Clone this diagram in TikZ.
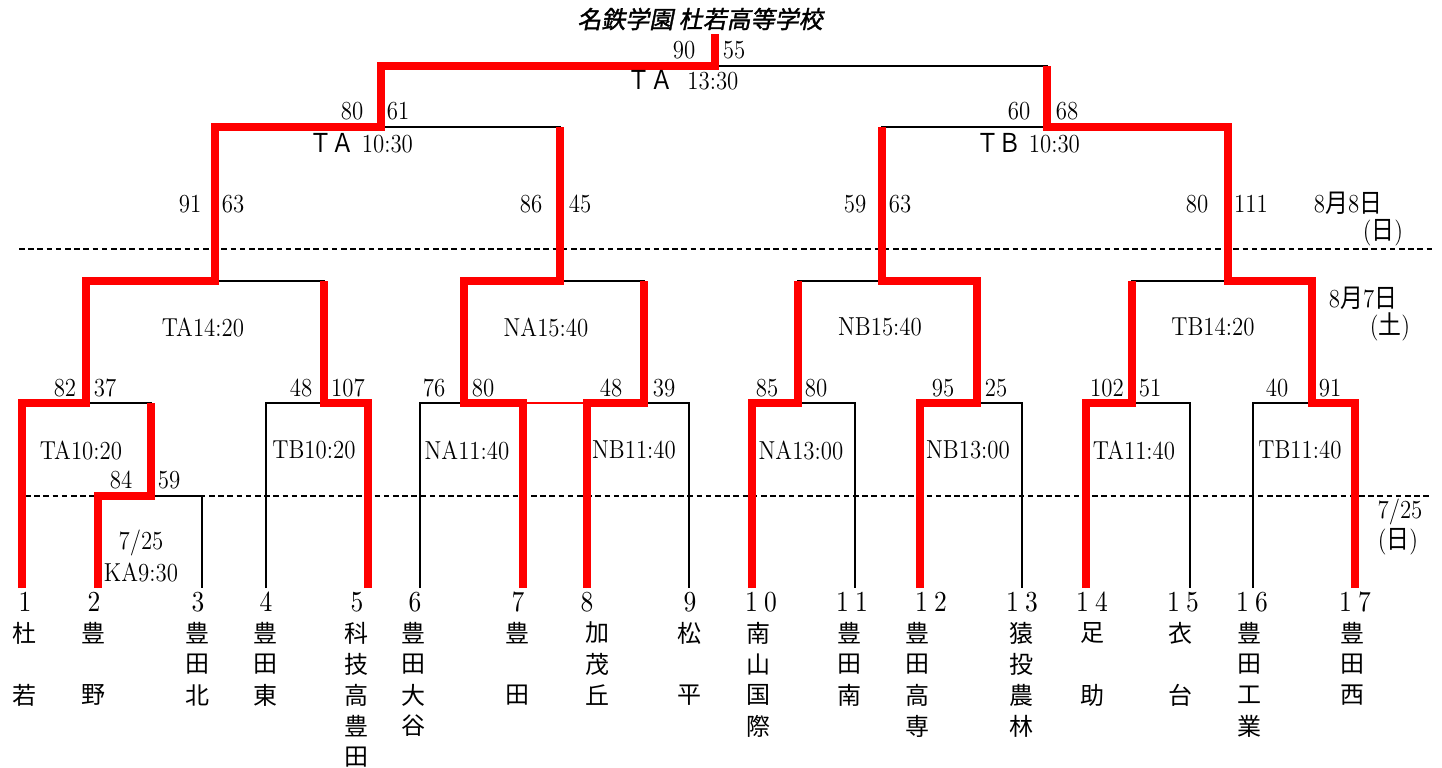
\documentclass[tikz,border=0pt]{standalone}
\usepackage{fontspec}
\newfontfamily\cjk{Noto Sans CJK JP}
\newfontfamily\cjktitle{Noto Sans CJK JP}[FakeSlant=0.2,FakeBold=1.5]
\newfontfamily\seedfont{lmroman10-regular.otf}[LetterSpace=25]
\definecolor{winred}{RGB}{255,0,0}

\begin{document}
\begin{tikzpicture}[line join=miter, x=0.5pt, y=-0.5pt,
  bracket/.style={line width=0.7pt},
  win/.style={line width=3.6pt, color=winred},
  day/.style={line width=1pt, dash pattern=on 2.8pt off 1.8pt},
  score/.style={font=\fontsize{13}{15}\selectfont, xscale=0.88, inner sep=0pt},
  seed/.style={font=\seedfont\fontsize{14.5}{16}\selectfont, xscale=0.88, inner sep=0pt},
  school/.style={font=\cjk\fontsize{12}{14}\selectfont, inner sep=0pt}]
\useasboundingbox (0,0) rectangle (1442,767);

% Games
\coordinate (m23) at (151,496);
\coordinate (m1) at (86,403);
\coordinate (m45) at (324,403);
\coordinate (m67) at (464,403);
\coordinate (m89) at (644,403);
\coordinate (m1011) at (798,403);
\coordinate (m1213) at (977,403);
\coordinate (m1415) at (1132,403);
\coordinate (m1617) at (1312,403);
\coordinate (q1) at (215,281);
\coordinate (q2) at (560,281);
\coordinate (q3) at (882,281);
\coordinate (q4) at (1228,281);
\coordinate (s1) at (381,127);
\coordinate (s2) at (1047,127);
\coordinate (f) at (715,66);
\coordinate (top) at (715,34);

% Teams
\foreach \t/\x/\nx/\cx/\num/\name in {
  1/22/25/24/1/{杜,{},若}, 2/98/94/94/2/{豊,{},野}, 3/202/198/197/3/{豊,田,北},
  4/266/266/265/4/{豊,田,東}, 5/368/357/356/5/{科,技,高,豊,田},
  6/420/415/413/6/{豊,田,大,谷}, 7/523/518/517/7/{豊,{},田},
  8/587/587/597/8/{加,茂,丘}, 9/689/690/689/9/{松,{},平},
  10/752/761/758/10/{南,山,国,際}, 11/855/852/849/11/{豊,田,南},
  12/920/931/917/12/{豊,田,高,専}, 13/1022/1022/1021/13/{猿,投,農,林},
  14/1086/1092/1092/14/{足,{},助}, 15/1190/1183/1180/15/{衣,{},台},
  16/1253/1252/1249/16/{豊,田,工,業}, 17/1355/1355/1352/17/{豊,田,西}}
{
  \coordinate (t\t) at (\x,588);
  \node [seed, name=num\t] at (\nx,602) {\num};
  \foreach \c [count=\i] in \name
    \node [school, name=sch\t-\i] at (\cx,602+31*\i) {\c};
}

% Days
\coordinate (d8w) at (19,249);
\coordinate (d8e) at (1432,249);
\coordinate (d7w) at (25,496);
\coordinate (d7e) at (1432,496);
\draw [day] (d8w) -- (d8e);
\draw [day] (d7w) -- (d7e);

% Brackets
\foreach \l/\g/\r in {t2/m23/t3, t1/m1/m23, t4/m45/t5, t6/m67/t7, t8/m89/t9,
  t10/m1011/t11, t12/m1213/t13, t14/m1415/t15, t16/m1617/t17,
  m1/q1/m45, m67/q2/m89, m1011/q3/m1213, m1415/q4/m1617,
  q1/s1/q2, q3/s2/q4, s1/f/s2}
  \draw [bracket] (\l) |- (\g) -| (\r);

% Winners
\draw [winred, line width=0.7pt] (t7 |- m67) -- (t8 |- m89);
\foreach \t/\g/\n in {t2/m23/m1, t5/m45/q1, t8/m89/q2, t10/m1011/q3, t14/m1415/q4}
  \draw [win] (\t) |- (\g) -- (\g |- \n);
\draw [win] (t7) |- (m67) |- (q2) -- (q2 |- s1);
\draw [win] (t12) |- (m1213) |- (q3) -- (q3 |- s2);
\draw [win] (t17) |- (m1617) |- (q4) |- (s2) -- (s2 |- f);
\draw [win] (t1) |- (m1) |- (q1) |- (s1) |- (f) -- (top);

% Scores
\foreach \x/\y/\s [count=\i] in {684/50/90, 734/50/55,
  352/111/80, 398/111/61, 1019/111/60, 1067/111/68,
  190/204/91, 233/204/63, 531/204/86, 580/204/45,
  855/204/59, 900/204/63, 1197/204/80, 1251/204/111,
  65/388/82, 105/388/37, 301/388/48, 348/388/107,
  434/388/76, 483/388/80, 611/388/48, 664/388/39,
  767/388/85, 816/388/80, 943/388/95, 996/388/25,
  1107/388/102, 1150/388/51, 1277/388/40, 1330/388/91,
  121/480/84, 169/480/59}
  \node [score, name=sc\i] at (\x,\y) {\s};

% Labels
\foreach \x/\y/\s [count=\i] in {81/450/TA10:20, 314/450/TB10:20, 467/450/NA11:40,
  634/450/NB11:40, 801/450/NA13:00, 968/450/NB13:00, 1134/450/TA11:40,
  1300/450/TB11:40, 203/327/TA14:20, 546/327/NA15:40, 880/327/NB15:40,
  1213/327/TB14:20}
  \node [score, name=gm\i] at (\x,\y) {\s};
\node [score, name=gmf] at (683,80) {{\cjk ＴＡ}\hspace{8pt}13:30};
\node [score, name=gms1] at (361,143) {{\cjk ＴＡ}\hspace{4pt}10:30};
\node [score, name=gms2] at (1028,143) {{\cjk ＴＢ}\hspace{4pt}10:30};
\node [score, name=gmk1] at (141,543) {7/25};
\node [score, name=gmk2] at (141,572) {KA9:30};
\node [score, name=day8] at (1348,203) {8{\cjk 月}8{\cjk 日}};
\node [score, name=day8w] at (1383,233) {({\cjk 日})};
\node [score, name=day7] at (1363,298) {8{\cjk 月}7{\cjk 日}};
\node [score, name=day7w] at (1390,327) {({\cjk 土})};
\node [score, name=day25] at (1400,512) {7/25};
\node [score, name=day25w] at (1398,542) {({\cjk 日})};
\node [name=title, font=\cjktitle\fontsize{12}{14}\selectfont] at (700,19) {名鉄学園 杜若高等学校};
\end{tikzpicture}
\end{document}
